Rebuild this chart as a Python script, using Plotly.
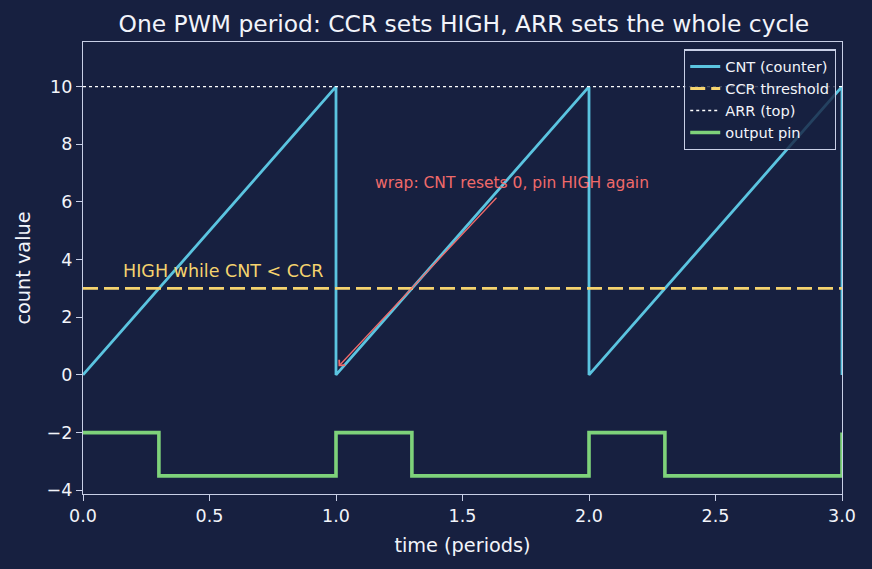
import plotly.graph_objects as go

# --- data ---
cnt_t = [0, 1, 1, 2, 2, 3, 3]
cnt_v = [0, 10, 0, 10, 0, 10, 0]
ccr_t = [0, 3]
ccr_v = [3, 3]
arr_t = [0, 3]
arr_v = [10, 10]
pin_t = [0, 0.3, 0.3, 1, 1, 1.3, 1.3, 2, 2, 2.3, 2.3, 3, 3]
pin_v = [-2, -2, -3.5, -3.5, -2, -2, -3.5, -3.5, -2, -2, -3.5, -3.5, -2]
x_ticks = [0, 0.5, 1.0, 1.5, 2.0, 2.5, 3.0]
y_ticks = [-4, -2, 0, 2, 4, 6, 8, 10]

BG = "#172040"
AX = "#c8cfe6"
TXT = "#f2f4fa"
FONT = "DejaVu Sans"

fig = go.Figure()
fig.add_trace(go.Scatter(x=cnt_t, y=cnt_v, mode="lines", name="CNT (counter)",
                         line=dict(color="#5bc4e0", width=2.8)))
fig.add_trace(go.Scatter(x=ccr_t, y=ccr_v, mode="lines", name="CCR threshold",
                         line=dict(color="#f5d36e", width=2.8, dash="15px,6px")))
fig.add_trace(go.Scatter(x=arr_t, y=arr_v, mode="lines", name="ARR (top)",
                         line=dict(color="#ffffff", width=1.3, dash="dot")))
fig.add_trace(go.Scatter(x=pin_t, y=pin_v, mode="lines", name="output pin",
                         line=dict(color="#7ed27a", width=3.6)))

fig.add_annotation(x=1.01, y=0.3, ax=1.64, ay=6.2, xref="x", yref="y",
                   axref="x", ayref="y", text="", showarrow=True,
                   arrowhead=4, arrowsize=1.2, arrowwidth=1.3, arrowcolor="#f06a6a")
fig.add_annotation(x=1.148, y=6.67, xref="x", yref="y", text="wrap: CNT resets 0, pin HIGH again",
                   showarrow=False, xanchor="left", yanchor="middle",
                   font=dict(color="#f06a6a", size=15.5, family=FONT))
fig.add_annotation(x=0.15, y=3.2, xref="x", yref="y", text="HIGH while CNT < CCR",
                   showarrow=False, xanchor="left", yanchor="bottom",
                   font=dict(color="#f5d36e", size=17.5, family=FONT))

axis_common = dict(showgrid=False, zeroline=False, showline=True, mirror=True,
                   linecolor=AX, linewidth=1.3, ticks="outside", tickcolor=AX,
                   ticklen=6, tickwidth=1.2, tickfont=dict(color=TXT, size=17.5, family=FONT))

fig.update_layout(
    width=872, height=569,
    paper_bgcolor=BG, plot_bgcolor=BG,
    margin=dict(l=83, r=30, t=42, b=75),
    font=dict(family=FONT, color=TXT),
    title=dict(text="One PWM period: CCR sets HIGH, ARR sets the whole cycle",
               x=0.532, xanchor="center", y=0.958, yanchor="middle",
               font=dict(size=23.4, color=TXT, family=FONT)),
    legend=dict(x=0.992, y=0.984, xanchor="right", yanchor="top",
                bgcolor="rgba(23,32,64,0.8)", bordercolor=AX, borderwidth=1.3,
                font=dict(size=14.6, color=TXT, family=FONT),
                tracegroupgap=0, itemwidth=30),
    showlegend=True,
)
fig.update_xaxes(range=[0, 3], tickvals=x_ticks, tickformat=".1f",
                 title=dict(text="time (periods)", font=dict(size=19.3, color=TXT, family=FONT), standoff=13),
                 **axis_common)
fig.update_yaxes(range=[-4.13, 11.55], tickvals=y_ticks, tickformat="d",
                 title=dict(text="count value", font=dict(size=19.3, color=TXT, family=FONT), standoff=10),
                 **axis_common)

fig.write_html("out.html")
